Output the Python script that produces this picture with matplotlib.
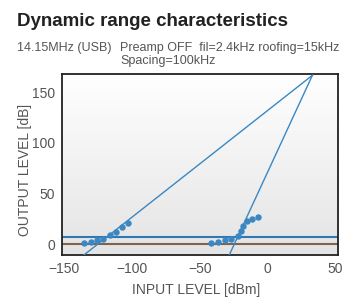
import numpy as np
import matplotlib
matplotlib.use("Agg")
import matplotlib.pyplot as plt

plt.rcParams['font.family'] = ['Liberation Sans', 'DejaVu Sans']

# measured points (input dBm, output dB)
fund_x = [-135.5, -130.5, -125.5, -121, -116, -111.5, -107.5, -103]
fund_y = [1.5, 2.5, 4, 5.5, 9, 12.5, 17, 21]
im3_x = [-41.6, -36.6, -31.7, -26.8, -21.9, -19.6, -18.2, -15.2, -11.3, -6.9]
im3_y = [1.3, 2.6, 4, 5.6, 8.5, 13.4, 17.7, 22.6, 25.2, 26.8]

# extrapolated lines (meet at the intercept point)
fund_line_x = [-136, 33]
fund_line_y = [-11, 166.5]
im3_line_x = [-28.5, 33]
im3_line_y = [-11, 166.5]

noise_floor = 0
mds_level = 7.5

xticks = [-150, -100, -50, 0, 50]
yticks = [0, 50, 100, 150]

txt = '#555555'
blue = '#3b87c2'

fig = plt.figure(figsize=(3.43, 2.97), dpi=100)
ax = fig.add_axes([0.181, 0.141, 0.805, 0.609])
ax.set_xlim(-151.5, 52)
ax.set_ylim(-10.5, 167.5)

# gradient background
grad = np.linspace(1, 0, 256).reshape(-1, 1)
ax.imshow(grad, extent=[0, 1, 0, 1], transform=ax.transAxes, aspect='auto',
          cmap=matplotlib.colors.LinearSegmentedColormap.from_list(
              'g', ['#e4e4e4', '#ffffff']), zorder=0)

ax.axhline(noise_floor, color='#7b6452', lw=1.5, zorder=2)
ax.axhline(mds_level, color='#2e78b4', lw=1.5, zorder=2)
ax.plot(fund_line_x, fund_line_y, color=blue, lw=1.0, zorder=3)
ax.plot(im3_line_x, im3_line_y, color=blue, lw=1.0, zorder=3)
ax.plot(fund_x, fund_y, 'o', color=blue, ms=3.6, zorder=4)
ax.plot(im3_x, im3_y, 'o', color=blue, ms=3.6, zorder=4)

ax.set_xticks(xticks)
ax.set_yticks(yticks)
ax.set_xticklabels(['\u2212150', '\u2212100', '\u221250', '0', '50'])
ax.tick_params(length=0, labelsize=10, labelcolor=txt, pad=5)
for s in ax.spines.values():
    s.set_color('#222222')
    s.set_linewidth(1.3)

ax.set_xlabel('INPUT LEVEL [dBm]', fontsize=10, color=txt)
ax.set_ylabel('OUTPUT LEVEL [dB]', fontsize=10, color=txt)
ax.xaxis.set_label_coords(0.485, -0.155)
ax.yaxis.set_label_coords(-0.11, 0.47)

fig.text(0.05, 0.912, 'Dynamic range characteristics', fontsize=13.5,
         fontweight='bold', color='#222222', va='baseline')
fig.text(0.05, 0.828, '14.15MHz (USB)', fontsize=9, color=txt,
         va='baseline')
fig.text(0.35, 0.828, 'Preamp OFF  fil=2.4kHz roofing=15kHz', fontsize=9,
         color=txt, va='baseline')
fig.text(0.35, 0.785, 'Spacing=100kHz', fontsize=9, color=txt,
         va='baseline')

fig.savefig('out.png', dpi=100)
